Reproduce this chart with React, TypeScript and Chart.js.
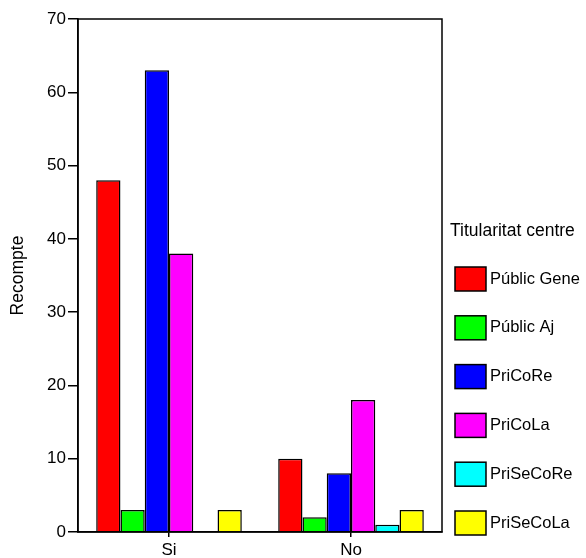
import React, { useEffect, useRef } from "react";
import { Chart, registerables } from "chart.js";

Chart.register(...registerables);

const categories = ["Si", "No"];
const seriesNames = ["Públic Gene", "Públic Aj", "PriCoRe", "PriCoLa", "PriSeCoRe", "PriSeCoLa"];
const seriesColors = ["#ff0000", "#00ff00", "#0000ff", "#ff00ff", "#00ffff", "#ffff00"];
const publicGene = [48, 10];
const publicAj = [3, 2];
const priCoRe = [63, 8];
const priCoLa = [38, 18];
const priSeCoRe = [0, 1];
const priSeCoLa = [3, 3];
const seriesValues = [publicGene, publicAj, priCoRe, priCoLa, priSeCoRe, priSeCoLa];
const legendTitle = "Titularitat centre";
const yTitle = "Recompte";

const FONT = "'Liberation Sans', Arial, sans-serif";

const framePlugin = {
  id: "framePlugin",
  afterDraw(chart: any) {
    const { ctx, chartArea } = chart;
    ctx.save();
    ctx.strokeStyle = "#000";
    ctx.lineWidth = 1.5;
    ctx.strokeRect(chartArea.left, chartArea.top, chartArea.right - chartArea.left, chartArea.bottom - chartArea.top);
    // legend
    ctx.fillStyle = "#000";
    ctx.textBaseline = "alphabetic";
    ctx.textAlign = "left";
    ctx.font = `17.5px ${FONT}`;
    ctx.fillText(legendTitle, 450, 236);
    ctx.font = `16.5px ${FONT}`;
    ctx.textBaseline = "middle";
    seriesNames.forEach((name, i) => {
      const top = 267 + i * 48.8;
      ctx.fillStyle = seriesColors[i];
      ctx.fillRect(455, top, 31, 24);
      ctx.strokeStyle = "#000";
      ctx.lineWidth = 1.5;
      ctx.strokeRect(455, top, 31, 24);
      ctx.fillStyle = "#000";
      ctx.fillText(name, 490, top + 12);
    });
    ctx.restore();
  },
};

export default function App() {
  const ref = useRef<HTMLCanvasElement>(null);
  useEffect(() => {
    if (!ref.current) return;
    const chart = new Chart(ref.current, {
      type: "bar",
      data: {
        labels: categories,
        datasets: seriesNames.map((name, i) => ({
          label: name,
          data: seriesValues[i],
          backgroundColor: seriesColors[i],
          borderColor: "#000",
          borderWidth: 1.5,
          borderSkipped: "bottom",
          categoryPercentage: 0.8,
          barPercentage: 1.0,
        })),
      },
      options: {
        responsive: false,
        animation: false,
        layout: { padding: { left: 8, top: 19, right: 144, bottom: 0 } },
        plugins: { legend: { display: false }, tooltip: { enabled: false } },
        scales: {
          x: {
            grid: { display: true, drawOnChartArea: false, drawTicks: true, tickLength: 5, offset: false, color: "#000", lineWidth: 1.5 },
            border: { display: true, color: "#000", width: 1.5 },
            ticks: { color: "#000", font: { family: FONT, size: 17 }, padding: 3 },
            afterFit(scale: any) { scale.height = 26; },
          },
          y: {
            min: 0,
            max: 70,
            ticks: { stepSize: 10, color: "#000", font: { family: FONT, size: 17 }, padding: 2 },
            grid: { display: true, drawOnChartArea: false, drawTicks: true, tickLength: 10, color: "#000", lineWidth: 1.5 },
            border: { display: true, color: "#000", width: 1.5 },
            title: { display: true, text: yTitle, color: "#000", font: { family: FONT, size: 17.5 }, padding: 0 },
            afterFit(scale: any) { scale.width = 70; },
          },
        },
      },
      plugins: [framePlugin],
    });
    return () => chart.destroy();
  }, []);
  return (
    <div style={{ position: "absolute", left: 0, top: 0, width: 586, height: 558, background: "#fff" }}>
      <canvas ref={ref} width={586} height={558} style={{ display: "block" }} />
    </div>
  );
}
